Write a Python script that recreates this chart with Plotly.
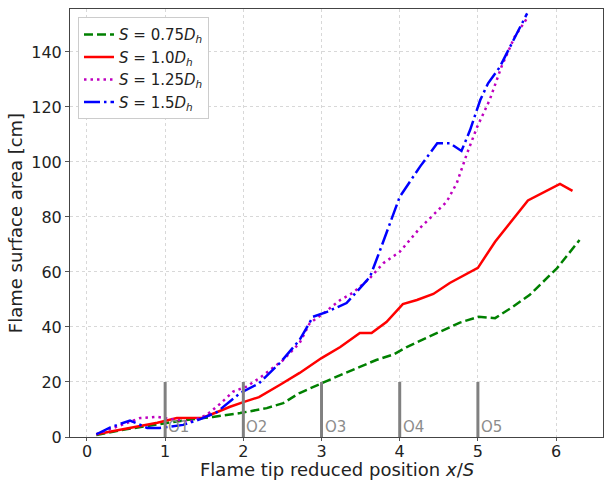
import plotly.graph_objects as go

# S = 0.75 D_h (green dashed)
x_075 = [0.12, 0.5, 1.02, 1.3, 1.61, 1.96, 2.3, 2.51, 2.72, 3.0, 3.24, 3.49, 3.7, 3.92, 4.09, 4.3, 4.5, 4.77, 5.01, 5.22, 5.45, 5.66, 6.01, 6.3]
y_075 = [0.7, 2.8, 5.1, 6.3, 7.3, 8.7, 10.5, 12.3, 16, 19.6, 22.5, 25.5, 28, 30, 32.7, 35.5, 38, 41.6, 43.7, 43.2, 47.4, 51.6, 61.3, 71.6]

# S = 1.0 D_h (red solid)
x_100 = [0.12, 0.3, 0.5, 0.7, 0.9, 1.15, 1.48, 1.66, 1.83, 2.0, 2.2, 2.47, 2.72, 3.0, 3.24, 3.49, 3.64, 3.83, 4.04, 4.22, 4.43, 4.64, 5.0, 5.22, 5.64, 6.05, 6.21]
y_100 = [1, 2, 3, 4, 5.2, 6.9, 7, 9, 11, 12.7, 14.5, 19, 23.3, 28.7, 32.7, 37.8, 37.8, 41.8, 48.3, 49.8, 52, 56, 61.5, 71, 86, 92, 89.5]

# S = 1.25 D_h (magenta dotted)
x_125 = [0.12, 0.4, 0.68, 0.9, 1.1, 1.32, 1.53, 1.7, 1.87, 2.04, 2.21, 2.51, 2.72, 2.85, 3.0, 3.24, 3.4, 3.62, 3.79, 4.0, 4.26, 4.6, 4.73, 4.86, 4.99, 5.15, 5.3, 5.47, 5.63]
y_125 = [1, 4, 6.9, 7.3, 6.5, 5.5, 8, 12, 16.5, 18.3, 21.5, 28, 34.2, 41.4, 44.4, 49.8, 52.4, 57.8, 63.2, 67.3, 76, 85.5, 92.3, 103, 112.7, 122.5, 134.5, 145.5, 152.3]

# S = 1.5 D_h (blue dash-dot)
x_150 = [0.12, 0.3, 0.55, 0.77, 0.93, 1.23, 1.45, 1.66, 1.96, 2.2, 2.47, 2.72, 2.89, 3.07, 3.32, 3.62, 3.75, 4.0, 4.26, 4.48, 4.64, 4.79, 4.9, 5.03, 5.13, 5.28, 5.41, 5.63]
y_150 = [1, 3.5, 6, 3.3, 3.3, 4.4, 6.5, 9, 16, 19.5, 27, 35.3, 43.7, 45.5, 48.7, 58.2, 68, 87.3, 98.3, 106.8, 106.8, 104, 111.6, 122.5, 128.6, 134.5, 141.8, 154]

series_names = ["<i>S</i> = 0.75<i>D<sub>h</sub></i>", "<i>S</i> = 1.0<i>D<sub>h</sub></i>",
                "<i>S</i> = 1.25<i>D<sub>h</sub></i>", "<i>S</i> = 1.5<i>D<sub>h</sub></i>"]

# obstacle markers
obst_x = [1, 2, 3, 4, 5]
obst_labels = ["O1", "O2", "O3", "O4", "O5"]
obst_height = 20

x_ticks = [0, 1, 2, 3, 4, 5, 6]
y_ticks = [0, 20, 40, 60, 80, 100, 120, 140]

x_title = "Flame tip reduced position <i>x</i>/<i>S</i>"
y_title = "Flame surface area [cm]"

fig = go.Figure()
styles = [
    (x_075, y_075, "#008000", "9px,4px"),
    (x_100, y_100, "#ff0000", "solid"),
    (x_125, y_125, "#bf00bf", "2.5px,4px"),
    (x_150, y_150, "#0000ff", "16px,4px,2.5px,4px"),
]
for (xs, ys, c, d), name in zip(styles, series_names):
    fig.add_trace(go.Scatter(x=xs, y=ys, mode="lines", name=name,
                             line=dict(color=c, width=2.5, dash=d)))

for xo, lab in zip(obst_x, obst_labels):
    fig.add_shape(type="line", x0=xo, x1=xo, y0=0, y1=obst_height, xref="x", yref="y",
                  line=dict(color="#808080", width=3), layer="above")
    fig.add_annotation(x=xo, y=0, text=lab, showarrow=False, xanchor="left", yanchor="bottom",
                       xshift=1, yshift=-1, font=dict(size=15, color="#8c8c8c", family="DejaVu Sans"))

# x-axis title as a fixed-position annotation (keeps plot area unchanged)
fig.add_annotation(x=0.5, y=-0.0771, xref="paper", yref="paper", text=x_title, showarrow=False,
                   xanchor="center", yanchor="middle", borderpad=0,
                   font=dict(size=18, color="#222"))

fig.update_layout(
    width=604, height=480,
    margin=dict(l=70, r=1, t=9, b=43),
    paper_bgcolor="white", plot_bgcolor="white",
    font=dict(family="DejaVu Sans", color="#222"),
    showlegend=True,
    legend=dict(x=0.015, y=0.981, xanchor="left", yanchor="top",
                bgcolor="white", bordercolor="#cccccc", borderwidth=1,
                font=dict(size=15, color="#222"), tracegroupgap=0),
)
fig.update_xaxes(range=[-0.217, 6.6], tickvals=x_ticks, ticks="outside", ticklen=3, tickcolor="#555",
                 tickfont=dict(size=16, color="#222"), automargin=False, ticklabelstandoff=-3,
                 showgrid=True, gridcolor="#d8d8d8", griddash="dot", gridwidth=1,
                 showline=True, mirror=True, linecolor="#444", linewidth=1, zeroline=False)
fig.update_yaxes(range=[0, 155.6], tickvals=y_ticks, ticks="outside", ticklen=4, tickcolor="#555",
                 tickfont=dict(size=16, color="#222"), automargin=False,
                 showgrid=True, gridcolor="#d8d8d8", griddash="dot", gridwidth=1,
                 showline=True, mirror=True, linecolor="#444", linewidth=1, zeroline=False,
                 title=dict(text=y_title, font=dict(size=18, color="#222"), standoff=3))

fig.write_html("out.html")
